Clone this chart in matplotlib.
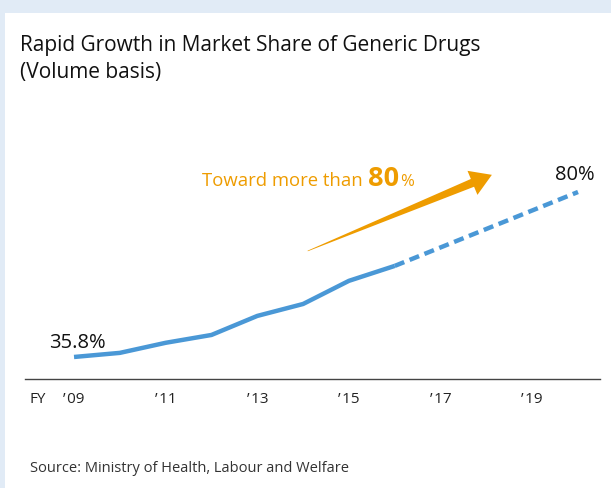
import matplotlib.pyplot as plt
import numpy as np
from matplotlib.patches import Rectangle, Polygon

# data
years = [2009, 2010, 2011, 2012, 2013, 2014, 2015, 2016]
share = [35.8, 36.9, 39.6, 41.7, 46.8, 50.0, 56.2, 60.2]
target_years = [2016, 2020]
target_share = [60.2, 80.0]
tick_years = [2009, 2011, 2013, 2015, 2017, 2019]
tick_labels = ['\u2019\u200a09', '\u2019\u200a11', '\u2019\u200a13', '\u2019\u200a15',
               '\u2019\u200a17', '\u2019\u200a19']

blue = '#4a98d6'
orange = '#ee9c00'
plt.rcParams['font.family'] = ['Open Sans', 'DejaVu Sans']

W, H = 611, 489
fig = plt.figure(figsize=(W / 100, H / 100), dpi=100)
fig.patch.set_facecolor('white')

# light blue frame (top and left)
fig.add_artist(Rectangle((0, 1 - 14 / H), 1, 14 / H, transform=fig.transFigure,
                         facecolor='#e1ebf6', edgecolor='none'))
fig.add_artist(Rectangle((0, 0), 5 / W, 1, transform=fig.transFigure,
                         facecolor='#e1ebf6', edgecolor='none'))

ax = fig.add_axes([25 / W, 1 - 380 / H, 575 / W, 240 / H])
ax.set_facecolor('none')
ax.set_xlim(2007.93, 2020.48)
ax.set_ylim(29.9, 94.2)
for s in ['top', 'right', 'left']:
    ax.spines[s].set_visible(False)
ax.spines['bottom'].set_color('#444444')
ax.spines['bottom'].set_linewidth(1.0)
ax.set_yticks([])
ax.set_xticks(tick_years)
ax.set_xticklabels(tick_labels, fontsize=11, color='#222222')
for lbl in ax.get_xticklabels():
    lbl.set_va('baseline')
ax.tick_params(axis='x', length=0, pad=16.6)

ax.annotate('FY', xy=(0, 0), xycoords='axes fraction', xytext=(2.9, -16.6),
            textcoords='offset points', fontsize=11, color='#222222', ha='left', va='baseline')

ax.plot(years, share, color=blue, lw=3.2, solid_capstyle='butt')
ax.plot(target_years, target_share, color=blue, lw=3.2, dashes=(2.3, 1.3))

ax.text(years[0] + 0.07, 38.5, '35.8%', fontsize=14.5, ha='center', va='baseline', color='#111111')
ax.text(2019.93, 83.5, '80%', fontsize=14.5, ha='center', va='baseline', color='#111111')

# orange arrow
fig.canvas.draw()
T = ax.transData.transform((2014.1, 64.2))
P = ax.transData.transform((2018.12, 84.6))
u = (P - T) / np.hypot(*(P - T))
n = np.array([-u[1], u[0]])
B = P - u * 21
pts = [T + n * 0.3, B + n * 4.2, B + n * 13, P, B - n * 13, B - n * 4.2, T - n * 0.3]
pts = ax.transData.inverted().transform(pts)
ax.add_patch(Polygon(pts, closed=True, facecolor=orange, edgecolor='none'))

# "Toward more than 80%"
base_y = 35.8 + (358 - 186) / 3.733
t1 = ax.text(2009 + (202 - 74) / 45.8, base_y, 'Toward more than ', fontsize=13.3, color=orange,
             ha='left', va='baseline')
fig.canvas.draw()
x1 = ax.transData.inverted().transform((t1.get_window_extent().x1, 0))[0]
t2 = ax.text(x1, base_y, '80', fontsize=19.5, fontweight='bold', color=orange, ha='left', va='baseline')
fig.canvas.draw()
x2 = ax.transData.inverted().transform((t2.get_window_extent().x1, 0))[0]
ax.text(x2 + 0.04, base_y, '%', fontsize=12, color=orange, ha='left', va='baseline')

fig.text(20 / W, 1 - 51 / H, 'Rapid Growth in Market Share of Generic Drugs',
         fontsize=15, color='#111111', ha='left', va='baseline')
fig.text(20 / W, 1 - 78 / H, '(Volume basis)',
         fontsize=15, color='#111111', ha='left', va='baseline')
fig.text(30 / W, 1 - 472 / H, 'Source: Ministry of Health, Labour and Welfare',
         fontsize=10.5, color='#333333', ha='left', va='baseline')

fig.savefig('out.png', dpi=100)
